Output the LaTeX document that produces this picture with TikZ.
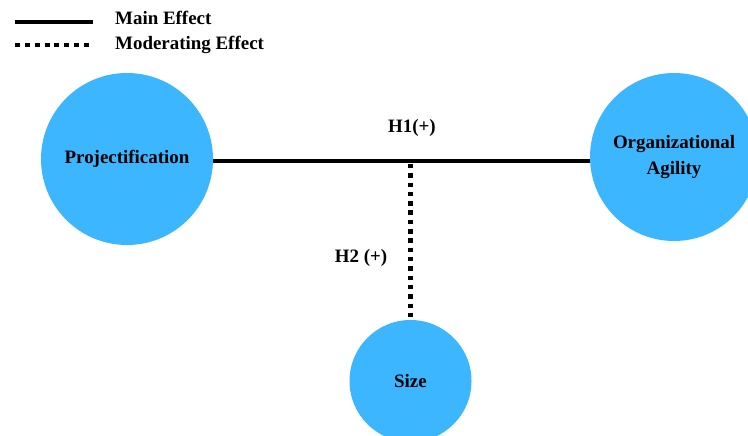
\documentclass[tikz,border=0pt]{standalone}
\usepackage{fontspec}
\setmainfont{Liberation Serif}
\definecolor{cblue}{RGB}{59,182,255}
\begin{document}
\begin{tikzpicture}[x=1bp,y=-1bp,
  every node/.style={font=\bfseries\fontsize{19}{23}\selectfont},
  circ/.style={circle,fill=cblue,draw=none,inner sep=0pt,align=center},
  mainline/.style={line width=4bp},
  modline/.style={line width=4.5bp,dash pattern=on 4.5bp off 4.8bp},
  lbl/.style={inner sep=0pt}]
\useasboundingbox (0,0) rectangle (748,436);
\node[circ,minimum size=172bp] (proj) at (127,159) {Projectification};
\node[circ,minimum size=168bp] (agil) at (674,157) {Organizational\\[4pt]Agility};
\node[circ,minimum size=122bp] (size) at (410.5,381) {Size};
\coordinate (j) at (410.5,164);
\draw[mainline] (proj.east |- 0,161.5) -- (agil.west |- 0,161.5);
\draw[modline] (j) -- (size.north);
\node[lbl] (h1) at (412,128) {H1(+)};
\node[lbl] (h2) at (361,258) {H2 (+)};
% legend
\coordinate (l1a) at (15,22);
\coordinate (l1b) at (93,22);
\coordinate (l2a) at (15,45);
\coordinate (l2b) at (89,45);
\draw[line width=4bp] (l1a) -- (l1b);
\draw[line width=4bp,dash pattern=on 5bp off 4.857bp] (l2a) -- (l2b);
\node[lbl,anchor=west] (t1) at (115,18) {Main Effect};
\node[lbl,anchor=west] (t2) at (115,45) {Moderating Effect};
\end{tikzpicture}
\end{document}
